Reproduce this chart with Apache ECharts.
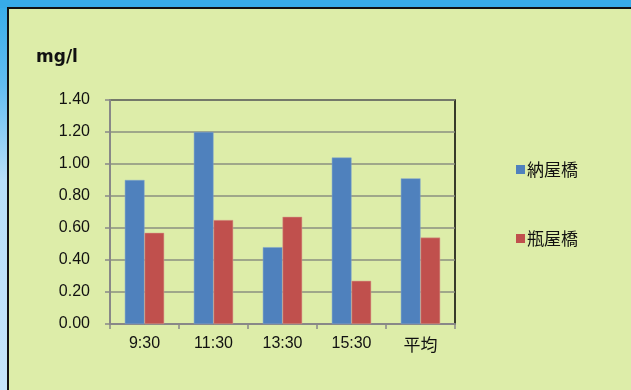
<!DOCTYPE html>
<html>
<head>
<meta charset="utf-8">
<script src="https://cdn.jsdelivr.net/npm/echarts@6/dist/echarts.min.js"></script>
<style>html,body{margin:0;padding:0;}#c{width:631px;height:390px;}</style>
</head>
<body>
<div id="c"></div>
<script>
const categories = ['9:30', '11:30', '13:30', '15:30', '平均'];
const nayabashi = [0.90, 1.20, 0.48, 1.04, 0.91];
const binyabashi = [0.57, 0.65, 0.67, 0.27, 0.54];
const seriesNames = ['納屋橋', '瓶屋橋'];
const unitLabel = 'mg/l';

const chart = echarts.init(document.getElementById('c'), null, {renderer: 'canvas'});
const font = '"Liberation Sans", Arial, sans-serif';
const cjk = '"Noto Sans CJK JP", sans-serif';
chart.setOption({
  animation: false,
  backgroundColor: '#37ABE8',
  graphic: [
    {type: 'rect', shape: {x: 0, y: 8, width: 9, height: 382},
      style: {fill: new echarts.graphic.LinearGradient(0, 0, 0, 1, [
        {offset: 0, color: '#3AAEE9'}, {offset: 0.2, color: '#62BDF0'},
        {offset: 0.45, color: '#B8DFF9'}, {offset: 1, color: '#C6E5FB'}])}, z: -10},
    {type: 'rect', shape: {x: 8, y: 8, width: 630, height: 390},
      style: {fill: '#DDEDA9', stroke: '#111', lineWidth: 2}, z: -5}
  ],
  title: {
    text: unitLabel, left: 31, top: 44,
    textStyle: {fontSize: 17, fontWeight: 'bold', color: '#111', fontFamily: '"DejaVu Sans", sans-serif'}
  },
  legend: {
    orient: 'vertical', left: 511, top: 156, itemGap: 52,
    itemWidth: 9, itemHeight: 9, icon: 'rect',
    itemStyle: {borderWidth: 0},
    textStyle: {fontSize: 17, color: '#111', fontFamily: cjk, padding: [0, 0, 0, -3]},
    data: seriesNames
  },
  grid: {left: 110, right: 176, top: 100, bottom: 66, show: true, borderColor: '#000', borderWidth: 1.5, backgroundColor: 'transparent'},
  xAxis: {
    type: 'category', data: categories,
    axisLine: {lineStyle: {color: '#888', width: 2}},
    axisTick: {show: true, length: 5, lineStyle: {color: '#888', width: 1.5}},
    axisLabel: {fontSize: 16, color: '#111', fontFamily: font, margin: 12, interval: 0,
      formatter: v => /[^\x00-\x7f]/.test(v) ? '{cj|' + v + '}' : v,
      rich: {cj: {fontSize: 17, fontFamily: cjk, color: '#111'}}}
  },
  yAxis: {
    type: 'value', min: 0, max: 1.4, interval: 0.2,
    axisLine: {show: true, lineStyle: {color: '#888', width: 2}},
    axisTick: {show: true, length: 5, lineStyle: {color: '#888', width: 1.5}},
    splitLine: {lineStyle: {color: '#8A8F80', width: 1.5}},
    axisLabel: {fontSize: 16, color: '#111', fontFamily: font, margin: 20,
      formatter: v => v.toFixed(2)}
  },
  series: [
    {name: seriesNames[0], type: 'bar', data: nayabashi, barGap: '0%', barCategoryGap: '43%',
      itemStyle: {color: '#4F81BD', borderColor: '#7FA3D0', borderWidth: 0.5}},
    {name: seriesNames[1], type: 'bar', data: binyabashi,
      itemStyle: {color: '#C0504D', borderColor: '#D9A090', borderWidth: 0.5}}
  ]
});
</script>
</body>
</html>
